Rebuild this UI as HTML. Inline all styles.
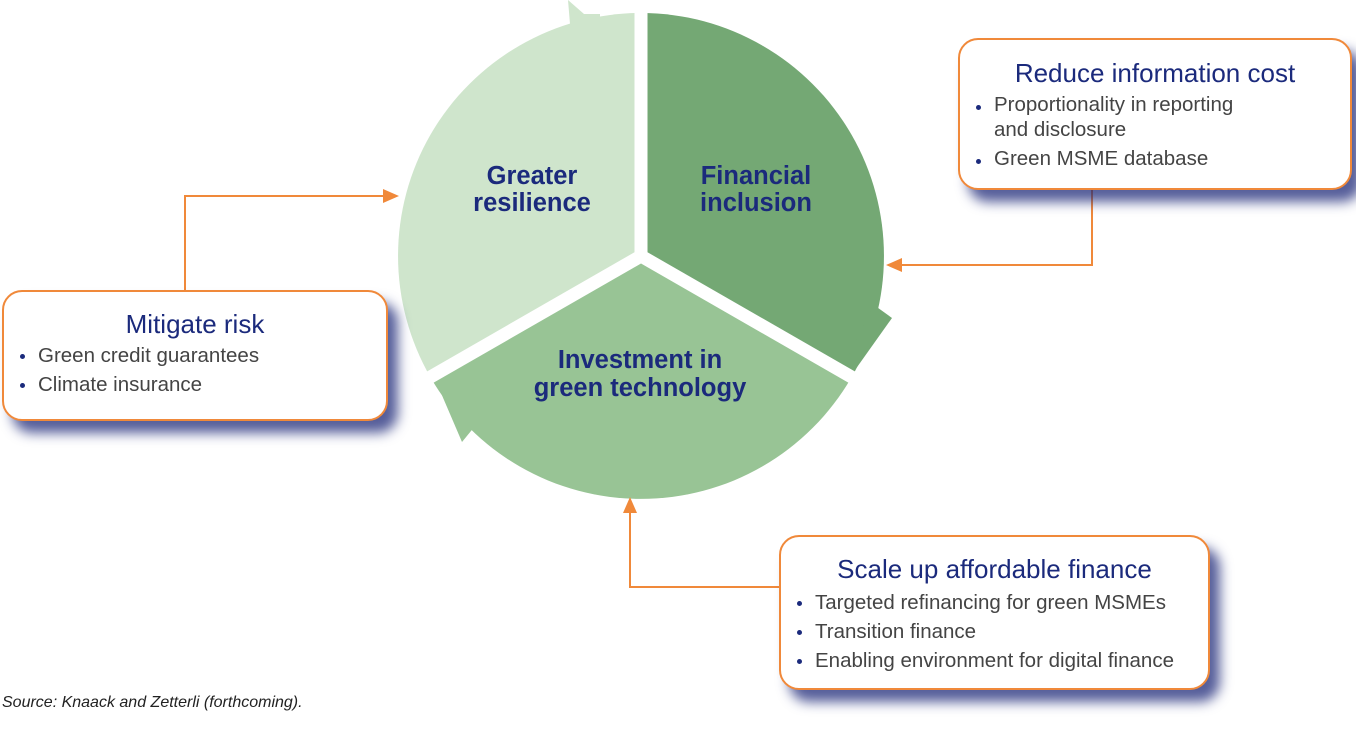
<!DOCTYPE html>
<html><head><meta charset="utf-8"><style>
html,body{margin:0;padding:0;background:#fff;}
body{width:1356px;height:738px;position:relative;overflow:hidden;font-family:"Liberation Sans",sans-serif;}
.box{position:absolute;background:#fff;border:2px solid #f0893a;border-radius:20px;box-shadow:10px 12px 12px rgba(30,40,120,0.75);box-sizing:border-box;}
.t{color:#1b2a7c;font-size:26px;text-align:center;line-height:30px;}
ul{margin:0;padding:0;list-style:none;color:#444;font-size:20.5px;line-height:29px;}
li{position:relative;padding-left:20px;white-space:nowrap;}
li:before{content:"";position:absolute;left:2px;top:13px;width:5px;height:5px;border-radius:50%;background:#1b2a7c;}
.src{position:absolute;left:2px;top:694px;font-style:italic;font-size:16px;color:#222;}
</style></head><body>
<svg width="1356" height="738" style="position:absolute;left:0;top:0">
<path d="M641,256 L430.6,377.5 A243,243 0 0 1 641,13 Z" fill="#cfe5cc"/>
<polygon points="568,0 584,14 600,14 600,24 570,24" fill="#cfe5cc"/>
<path d="M641,256 L641,13 A243,243 0 0 1 851.4,377.5 Z" fill="#74a874"/>
<polygon points="874,305 892,318 855,370 846,360" fill="#74a874"/>
<path d="M641,256 L851.4,377.5 A243,243 0 0 1 430.6,377.5 Z" fill="#98c495"/>
<polygon points="432,372 462,442 480,420 470,380" fill="#98c495"/>
<g stroke="#fff" stroke-width="13">
<line x1="641" y1="256" x2="641" y2="0"/>
<line x1="641" y1="256" x2="420" y2="383"/>
<line x1="641" y1="256" x2="862" y2="383"/>
</g>
<g fill="none" stroke="#f0893a" stroke-width="2">
<polyline points="185,290 185,196 388,196"/>
<polyline points="1092,190 1092,265 898,265"/>
<polyline points="780,587 630,587 630,508"/>
</g>
<g fill="#f0893a">
<polygon points="399,196 383,189 383,203"/>
<polygon points="886,265 902,258 902,272"/>
<polygon points="630,497 623,513 637,513"/>
</g>
<g font-family="Liberation Sans, sans-serif" font-weight="bold" font-size="25.5" fill="#1b2a7c" text-anchor="middle">
<text x="532" y="184">Greater</text><text x="532" y="211">resilience</text>
<text x="756" y="184">Financial</text><text x="756" y="211">inclusion</text>
<text x="640" y="368">Investment in</text><text x="640" y="396">green technology</text>
</g>
</svg>
<div class="box" style="left:2px;top:290px;width:386px;height:131px;">
<div class="t" style="margin-top:17px;">Mitigate risk</div>
<ul style="margin-left:14px;margin-top:2px;"><li>Green credit guarantees</li><li>Climate insurance</li></ul>
</div>
<div class="box" style="left:958px;top:38px;width:394px;height:152px;">
<div class="t" style="margin-top:18px;">Reduce information cost</div>
<ul style="margin-left:14px;margin-top:4px;line-height:25px;"><li>Proportionality in reporting<br>and disclosure</li><li style="margin-top:4px">Green MSME database</li></ul>
</div>
<div class="box" style="left:779px;top:535px;width:431px;height:155px;">
<div class="t" style="margin-top:17px;">Scale up affordable finance</div>
<ul style="margin-left:14px;margin-top:4px;"><li>Targeted refinancing for green MSMEs</li><li>Transition finance</li><li>Enabling environment for digital finance</li></ul>
</div>
<div class="src">Source: Knaack and Zetterli (forthcoming).</div>
</body></html>
